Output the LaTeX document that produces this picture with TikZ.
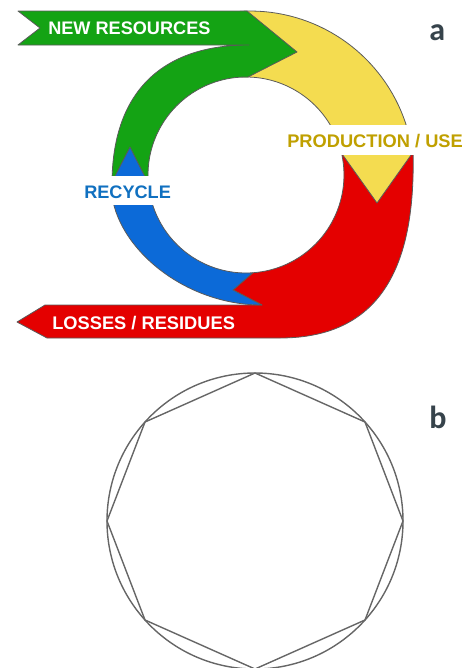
\documentclass[tikz,border=0pt]{standalone}
\usepackage{fontspec}
\setmainfont{Liberation Sans}
\newfontfamily\calib{Carlito}
\definecolor{cgreen}{RGB}{20,163,20}
\definecolor{cyellow}{RGB}{244,220,80}
\definecolor{cred}{RGB}{228,0,0}
\definecolor{cblue}{RGB}{12,106,216}
\definecolor{cgold}{RGB}{192,160,0}
\definecolor{crec}{RGB}{16,112,192}
\definecolor{cslate}{RGB}{54,67,75}
\definecolor{cedge}{RGB}{90,90,90}
\tikzset{
  seg/.style={draw=cedge, line width=0.6pt, line join=round},
  lbl/.style={inner sep=0pt, anchor=base west, font=\bfseries},
  octline/.style={draw=black!60, line width=1.05pt},
  panel/.style={inner sep=0pt, anchor=base west, text=cslate, font=\calib\bfseries\fontsize{24}{28}\selectfont}
}
\begin{document}
\begin{tikzpicture}[x=0.75pt,y=-0.75pt]
\useasboundingbox (0,0) rectangle (467,668);
% red arrow (losses)
\filldraw[seg, fill=cred] (413,150) -- (340.8,150)
  -- plot[domain=0:1,samples=40] ({246+98*cos(14.8-100.8*\x)},{175-98*sin(14.8-100.8*\x)})
  -- (233,290) -- (262,305) -- (45,305) -- (17,322) -- (47,338) -- (280,338)
  .. controls (385,338) and (416,260) .. (413,150)
  -- cycle;
% yellow arrow (production/use)
\filldraw[seg, fill=cyellow]
  plot[domain=0:1,samples=40] ({250+164*cos(93.5-85.8*\x)},{175-164*sin(93.5-85.8*\x)})
  -- (377,203) -- (341.6,153.3)
  -- plot[domain=0:1,samples=40] ({246+98*cos(12.8+79.2*\x)},{175-98*sin(12.8+79.2*\x)})
  -- cycle;
% green arrow (new resources)
\filldraw[seg, fill=cgreen] (18,11) -- (247,11) -- (297,52) -- (248,77)
  -- plot[domain=0:1,samples=40] ({246+98*cos(88.8+96*\x)},{175-98*sin(88.8+96*\x)})
  -- (112,184) .. controls (112,94) and (160,45) .. (249,45)
  -- (18,45) -- (40,28) -- cycle;
% blue arrow (recycle)
\filldraw[seg, fill=cblue] (130,147)
  -- plot[domain=0:1,samples=40] ({246+98*cos(185+89*\x)},{175-98*sin(185+89*\x)})
  -- (233,290) -- (262,305)
  .. controls (182,305) and (111,244) .. (111,184)
  -- cycle;
% white label backgrounds
\fill[white] (284,125) rectangle (467,154.5);
\fill[white] (80,176) rectangle (176,205);
% labels
\node[lbl, text=white, font=\bfseries\fontsize{13.6}{15}\selectfont] (newres) at (48,34) {NEW RESOURCES};
\node[lbl, text=cgold, font=\bfseries\fontsize{13.7}{15}\selectfont] (prod) at (287,147) {PRODUCTION / USE};
\node[lbl, text=crec, font=\bfseries\fontsize{13.6}{15}\selectfont] (recyc) at (84,198) {RECYCLE};
\node[lbl, text=white, font=\bfseries\fontsize{13.7}{15}\selectfont] (losses) at (52,329) {LOSSES / RESIDUES};
\node[panel] (pa) at (429,40) {a};
\node[panel] (pb) at (429,428) {b};
% panel b: circle with inscribed octagon
\draw[octline] (255,521) circle [radius=148];
\draw[octline, line join=round] (255,373) -- (365,422) -- (403,521) -- (365,620) -- (255,669)
  -- (145,620) -- (107,521) -- (145,422) -- cycle;
\end{tikzpicture}
\end{document}
